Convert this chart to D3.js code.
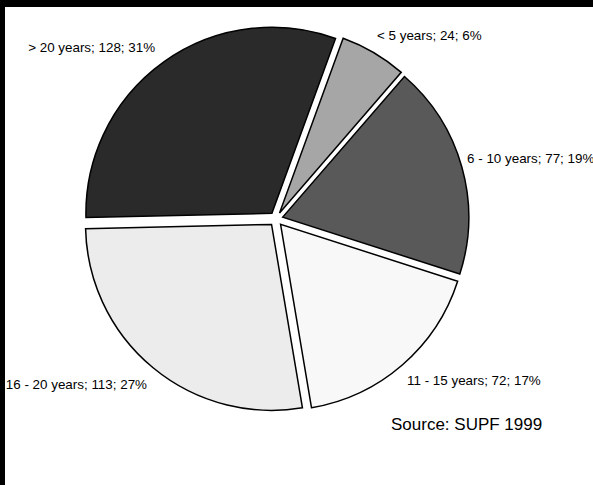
<!DOCTYPE html>
<html>
<head>
<meta charset="utf-8">
<script src="https://cdn.jsdelivr.net/npm/d3@7"></script>
<style>
  html, body { margin: 0; padding: 0; background: #fff; }
  svg { display: block; }
</style>
</head>
<body>
<script>
// ---- data ----
const categories = ["< 5 years", "6 - 10 years", "11 - 15 years", "16 - 20 years", "> 20 years"];
const counts = [24, 77, 72, 113, 128];
const percentLabels = ["6%", "19%", "17%", "27%", "31%"];
const sourceNote = "Source: SUPF 1999";

// ---- styling / layout (not data) ----
const fills = ["#a6a6a6", "#595959", "#f8f8f8", "#ececec", "#2a2a2a"];
const W = 593, H = 485;
const cx = 276, cy = 219, radius = 186, explode = 7, labelR = 214;
const startDeg = 20;
// label nudges relative to the bisector point at labelR
const labelNudge = [[-7.4, 5.5], [-15, 2.2], [-9, 4.2], [7.3, 5], [3.8, 6.4]];

const svg = d3.select("body").append("svg").attr("width", W).attr("height", H);
svg.append("rect").attr("width", W).attr("height", H).attr("fill", "#fff");
// black frame strips (top, left)
svg.append("rect").attr("x", 0).attr("y", 0).attr("width", W).attr("height", 7).attr("fill", "#000");
svg.append("rect").attr("x", 0).attr("y", 0).attr("width", 5).attr("height", H).attr("fill", "#000");

const rad = d => d * Math.PI / 180;
const pie = d3.pie().sort(null).value(d => d.v)
  .startAngle(rad(startDeg)).endAngle(rad(startDeg + 360));
const data = categories.map((c, i) => ({ c, v: counts[i], p: percentLabels[i], i }));
const arcs = pie(data);
const arc = d3.arc().innerRadius(0).outerRadius(radius);

const g = svg.append("g").attr("transform", `translate(${cx},${cy})`);
g.selectAll("path").data(arcs).join("path")
  .attr("d", arc)
  .attr("transform", d => {
    const m = (d.startAngle + d.endAngle) / 2;
    return `translate(${explode * Math.sin(m)},${-explode * Math.cos(m)})`;
  })
  .attr("fill", d => fills[d.data.i])
  .attr("stroke", "#000")
  .attr("stroke-width", 1.5)
  .attr("stroke-linejoin", "miter");

g.selectAll("text.lbl").data(arcs).join("text")
  .attr("class", "lbl")
  .attr("x", d => {
    const m = (d.startAngle + d.endAngle) / 2;
    return labelR * Math.sin(m) + labelNudge[d.data.i][0];
  })
  .attr("y", d => {
    const m = (d.startAngle + d.endAngle) / 2;
    return -labelR * Math.cos(m) + labelNudge[d.data.i][1];
  })
  .attr("text-anchor", d => Math.sin((d.startAngle + d.endAngle) / 2) >= 0 ? "start" : "end")
  .attr("font-family", "Liberation Sans, Arial, sans-serif")
  .attr("font-size", 13.4)
  .attr("fill", "#000")
  .text(d => `${d.data.c}; ${d.data.v}; ${d.data.p}`);

svg.append("text")
  .attr("x", 391).attr("y", 430)
  .attr("font-family", "Liberation Sans, Arial, sans-serif")
  .attr("font-size", 17)
  .attr("fill", "#000")
  .text(sourceNote);
</script>
</body>
</html>
